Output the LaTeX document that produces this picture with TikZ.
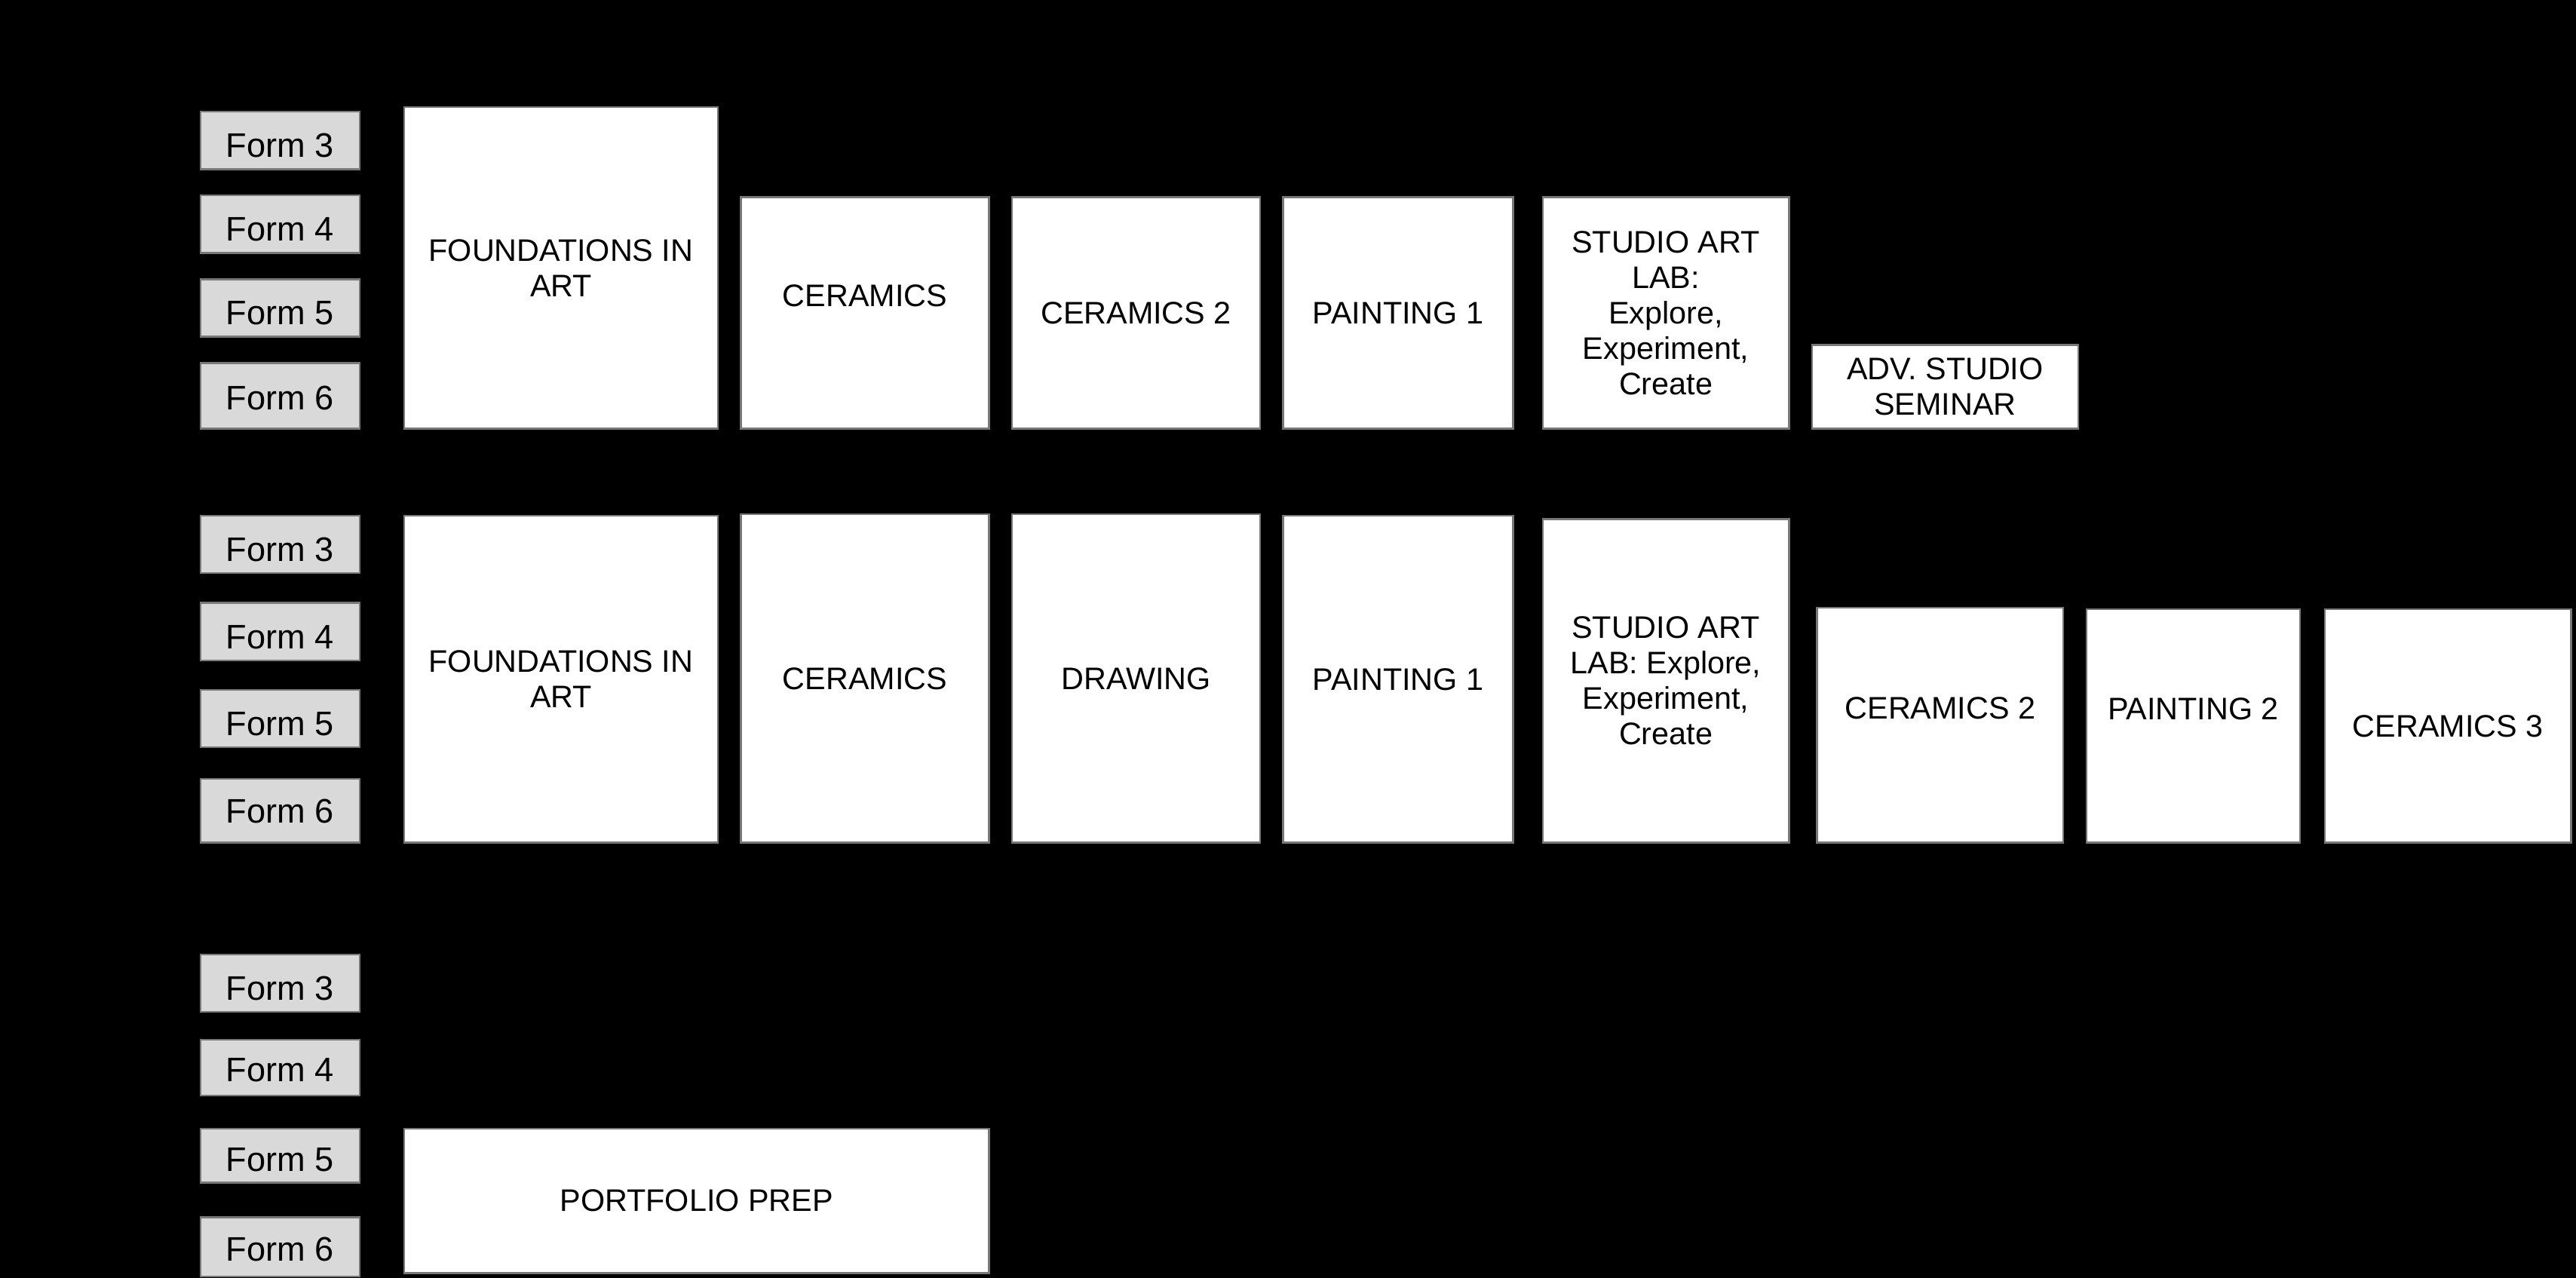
\documentclass[tikz,border=0pt]{standalone}
\usepackage{xcolor}
\usepackage{fontspec}
\setmainfont{Liberation Sans}
\usepackage{tikz}
\definecolor{FormGray}{RGB}{217, 217, 217}
\definecolor{EdgeGray}{RGB}{120, 120, 120}

\begin{document}
\begin{tikzpicture}[x=0.02cm, y=-0.02cm,
  form/.style={draw=EdgeGray, fill=FormGray, line width=0.6pt, inner sep=0pt,
    minimum width=1.94cm, minimum height=0.7cm,
    text height=0.41cm, text depth=0pt,
    font=\fontsize{11.8}{14}\selectfont},
  course/.style={draw=EdgeGray, fill=white, line width=0.6pt, inner sep=0pt,
    align=center, font=\fontsize{10.8}{12.3}\selectfont},
  lift/.style={text depth=0.42cm}
]
\path[fill=black] (0,0) rectangle (1568,778);

% first track
\node[form] (f3a) at (170.5,85.5)  {Form 3};
\node[form] (f4a) at (170.5,136.5) {Form 4};
\node[form] (f5a) at (170.5,187.5) {Form 5};
\node[form, text height=0.34cm, minimum height=0.8cm] (f6a) at (170.5,241) {Form 6};
\node[course, minimum width=3.82cm, minimum height=3.92cm] (found1) at (341.5,163) {FOUNDATIONS IN\\ART};
\node[course, lift, minimum width=3.02cm, minimum height=2.82cm] (cer1) at (526.5,190.5) {CERAMICS};
\node[course, minimum width=3.02cm, minimum height=2.82cm] (certwo1) at (691.5,190.5) {CERAMICS 2};
\node[course, minimum width=2.8cm, minimum height=2.82cm] (paint1) at (851,190.5) {PAINTING 1};
\node[course, minimum width=3cm, minimum height=2.82cm] (lab1) at (1014,190.5) {STUDIO ART\\LAB:\\Explore,\\Experiment,\\Create};
\node[course, minimum width=3.24cm, minimum height=1.02cm] (adv1) at (1184,235.5) {ADV. STUDIO\\SEMINAR};

% second track
\node[form] (f3b) at (170.5,331.5) {Form 3};
\node[form] (f4b) at (170.5,384.5) {Form 4};
\node[form] (f5b) at (170.5,437.5) {Form 5};
\node[form, text height=0.3cm, minimum height=0.78cm] (f6b) at (170.5,493.5) {Form 6};
\node[course, minimum width=3.82cm, minimum height=3.98cm] (found2) at (341.5,413.5) {FOUNDATIONS IN\\ART};
\node[course, minimum width=3.02cm, minimum height=4cm] (cer2) at (526.5,413) {CERAMICS};
\node[course, minimum width=3.02cm, minimum height=4cm] (draw2) at (691.5,413) {DRAWING};
\node[course, minimum width=2.8cm, minimum height=3.98cm] (paint2) at (851,413.5) {PAINTING 1};
\node[course, minimum width=3cm, minimum height=3.94cm] (lab2) at (1014,414.5) {STUDIO ART\\LAB: Explore,\\Experiment,\\Create};
\node[course, lift, minimum width=3cm, minimum height=2.86cm] (certwo2) at (1181,441.5) {CERAMICS 2};
\node[course, lift, minimum width=2.6cm, minimum height=2.84cm] (painttwo2) at (1335,442) {PAINTING 2};
\node[course, minimum width=3cm, minimum height=2.84cm] (certhree2) at (1490,442) {CERAMICS 3};

% third track
\node[form] (f3c) at (170.5,598.5) {Form 3};
\node[form, text height=0.34cm, minimum height=0.68cm] (f4c) at (170.5,650) {Form 4};
\node[form, text height=0.38cm, minimum height=0.66cm] (f5c) at (170.5,703.5) {Form 5};
\node[form, text height=0.34cm, minimum height=0.72cm] (f6c) at (170.5,759) {Form 6};
\node[course, minimum width=7.12cm, minimum height=1.76cm] (port3) at (424,731) {PORTFOLIO PREP};
\end{tikzpicture}
\end{document}
